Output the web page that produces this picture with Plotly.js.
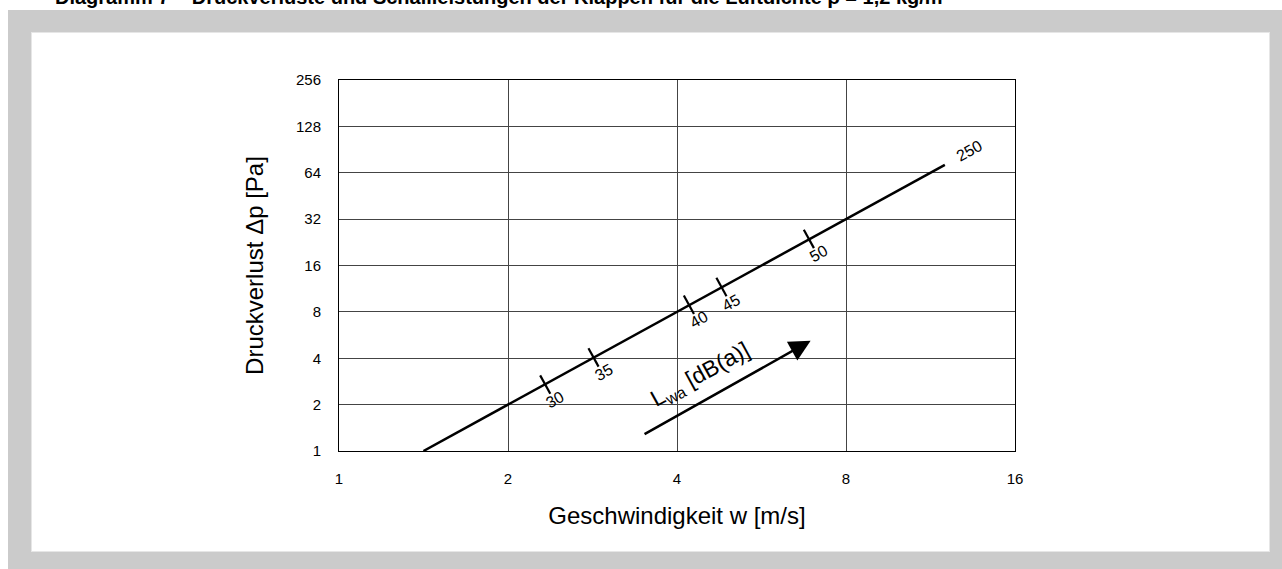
<!DOCTYPE html>
<html>
<head>
<meta charset="utf-8">
<script src="https://cdn.plot.ly/plotly-3.0.1.min.js"></script>
<style>
  html, body { margin: 0; padding: 0; background: #ffffff; width: 1282px; height: 569px; overflow: hidden; }
  #frame { position: absolute; left: 8px; top: 10px; width: 1274px; height: 559px; background: #cbcbcb; }
  #inner { position: absolute; left: 32px; top: 33px; width: 1237px; height: 518px; background: #ffffff; box-shadow: 0 0 0 1px #e6e6e6; }
  #header { position: absolute; left: 55px; top: -14px; font: bold 20px "Liberation Sans", Arial, sans-serif; color: #000; white-space: nowrap; }
  #chart { position: absolute; left: 0; top: 0; width: 1282px; height: 569px; }
</style>
</head>
<body>
<div id="frame"></div>
<div id="inner"></div>
<div id="header">Diagramm 7 – Druckverluste und Schallleistungen der Klappen für die Luftdichte ρ = 1,2 kg/m³</div>
<div id="chart"></div>
<script>
// Axis ticks
const xTicks = [1, 2, 4, 8, 16];
const yTicks = [1, 2, 4, 8, 16, 32, 64, 128, 256];

// Pressure-loss curve (velocity m/s, pressure loss Pa)
const lineW = [1.414, 2, 4, 8, 12];
const lineP = [1, 2, 8, 32, 72];

// Sound power markers on the curve
const markW = [2.33, 2.84, 4.2, 4.8, 6.87];
const markP = [2.7, 4.05, 8.9, 11.6, 23.8];
const markLabels = ["30", "35", "40", "45", "50"];

// End label
const endLabel = "250";

// Arrow (Lwa direction)
const arrowStart = [3.48, 1.27];
const arrowEnd = [6.92, 5.2];
const lwaPos = [4.40, 3.11];

const FONT = '"Liberation Sans", Arial, sans-serif';
const L = Math.log10;
const angle = -28.8;

const traces = [
  {
    x: lineW, y: lineP, type: 'scatter', mode: 'lines',
    line: { color: '#000', width: 2.5 }, hoverinfo: 'skip', showlegend: false
  },
  {
    x: markW, y: markP, type: 'scatter', mode: 'markers',
    marker: { symbol: 'line-ns', size: 15, angle: angle, line: { color: '#000', width: 2.2 }, color: '#000' },
    hoverinfo: 'skip', showlegend: false
  }
];

const annotations = markW.map((w, i) => ({
  x: L(w), y: L(markP[i]), xref: 'x', yref: 'y',
  text: markLabels[i], showarrow: false, textangle: angle,
  xshift: 10, yshift: -15,
  font: { family: FONT, size: 16, color: '#000' }
}));

annotations.push({
  x: L(lineW[lineW.length - 1]), y: L(lineP[lineP.length - 1]), xref: 'x', yref: 'y',
  text: endLabel, showarrow: false, textangle: angle,
  xshift: 25, yshift: 14,
  font: { family: FONT, size: 16, color: '#000' }
});

annotations.push({
  x: L(arrowEnd[0]), y: L(arrowEnd[1]), xref: 'x', yref: 'y',
  ax: L(arrowStart[0]), ay: L(arrowStart[1]), axref: 'x', ayref: 'y',
  text: '', showarrow: true, arrowhead: 2, arrowsize: 1.7, arrowwidth: 2.5, arrowcolor: '#000', standoff: 0
});

annotations.push({
  x: L(lwaPos[0]), y: L(lwaPos[1]), xref: 'x', yref: 'y',
  text: 'L<sub>wa</sub> [dB(a)]', showarrow: false, textangle: angle,
  font: { family: FONT, size: 23, color: '#000' }
});

const layout = {
  width: 1282, height: 569,
  margin: { l: 339, r: 267, t: 80, b: 118 },
  paper_bgcolor: 'rgba(0,0,0,0)', plot_bgcolor: '#ffffff',
  font: { family: FONT, color: '#000' },
  showlegend: false,
  xaxis: {
    type: 'log', range: [0, L(16)],
    tickvals: xTicks, ticktext: xTicks.map(String),
    ticks: 'outside', ticklen: 14, tickcolor: 'rgba(0,0,0,0)',
    tickfont: { family: FONT, size: 15, color: '#000' },
    showgrid: true, gridcolor: '#444', gridwidth: 1,
    showline: true, linecolor: '#000', linewidth: 1, mirror: true,
    zeroline: false, fixedrange: true,
    title: { text: 'Geschwindigkeit w [m/s]', font: { family: FONT, size: 24, color: '#000' }, standoff: 21 }
  },
  yaxis: {
    type: 'log', range: [0, L(256)],
    tickvals: yTicks, ticktext: yTicks.map(String),
    ticks: 'outside', ticklen: 14, tickcolor: 'rgba(0,0,0,0)',
    tickfont: { family: FONT, size: 15, color: '#000' },
    showgrid: true, gridcolor: '#444', gridwidth: 1,
    showline: true, linecolor: '#000', linewidth: 1, mirror: true,
    zeroline: false, fixedrange: true,
    title: { text: 'Druckverlust Δp [Pa]', font: { family: FONT, size: 24, color: '#000' }, standoff: 25 }
  },
  annotations: annotations
};

Plotly.newPlot('chart', traces, layout, { displayModeBar: false, staticPlot: true });
</script>
</body>
</html>
